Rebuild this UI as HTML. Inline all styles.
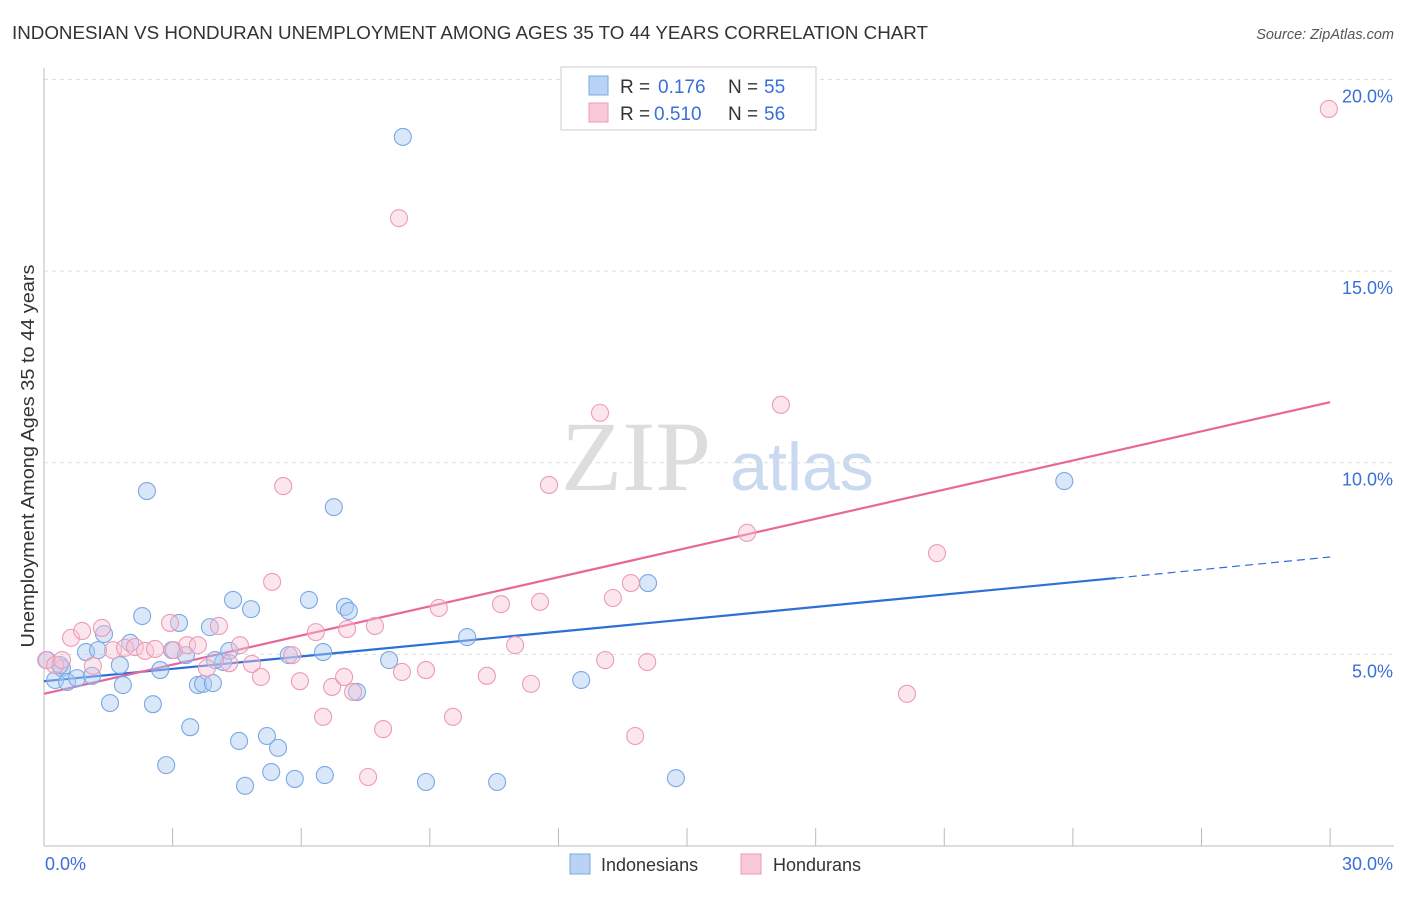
<!DOCTYPE html>
<html><head><meta charset="utf-8"><style>
body{margin:0;background:#fff;font-family:"Liberation Sans",sans-serif;}
svg text{font-family:"Liberation Sans",sans-serif;}
</style></head><body>
<svg id="chart" width="1406" height="892">
<text x="12" y="39" font-size="18.6" fill="#333" textLength="916" lengthAdjust="spacingAndGlyphs">INDONESIAN VS HONDURAN UNEMPLOYMENT AMONG AGES 35 TO 44 YEARS CORRELATION CHART</text>
<text x="1394" y="39" font-size="14.5" fill="#555" font-style="italic" text-anchor="end">Source: ZipAtlas.com</text>
<text x="0" y="0" transform="translate(34,456) rotate(-90)" font-size="18" fill="#333" text-anchor="middle" textLength="383" lengthAdjust="spacingAndGlyphs">Unemployment Among Ages 35 to 44 years</text>
<text x="636" y="490" font-size="100" fill="#ddd" style="font-family:'Liberation Serif',serif" text-anchor="middle">ZIP</text>
<text x="802" y="490" font-size="68" fill="#c9d9ef" text-anchor="middle">atlas</text>
<g id="grid"></g><g id="axes"></g><g id="lines"></g><g id="pts"></g>
<g>
<rect x="561" y="67" width="255" height="63" fill="#fff" stroke="#ccc"/>
<rect x="589" y="76" width="19" height="19" fill="#b9d3f5" stroke="#7aa8e4"/>
<text x="620" y="93" font-size="19" fill="#333">R = </text><text x="658" y="93" font-size="19" fill="#3a6fd8">0.176</text>
<text x="728" y="93" font-size="19" fill="#333">N = </text><text x="764" y="93" font-size="19" fill="#3a6fd8">55</text>
<rect x="589" y="103" width="19" height="19" fill="#f9c9d8" stroke="#ee9ab5"/>
<text x="620" y="120" font-size="19" fill="#333">R = </text><text x="654" y="120" font-size="19" fill="#3a6fd8">0.510</text>
<text x="728" y="120" font-size="19" fill="#333">N = </text><text x="764" y="120" font-size="19" fill="#3a6fd8">56</text>
</g>
<g>
<rect x="570" y="854" width="20" height="20" fill="#b9d3f5" stroke="#7aa8e4"/>
<text x="601" y="871" font-size="18" fill="#333">Indonesians</text>
<rect x="741" y="854" width="20" height="20" fill="#f9c9d8" stroke="#ee9ab5"/>
<text x="773" y="871" font-size="18" fill="#333">Hondurans</text>
</g>
</svg>
<script>
const xTickVals=[0,3,6,9,12,15,18,21,24,27,30];
const yTickVals=[5,10,15,20];
const blueX=[0.07,0.26,0.42,0.54,0.77,0.98,1.12,1.26,1.40,1.54,1.77,1.84,2.01,2.29,2.40,2.54,2.71,2.85,2.99,3.15,3.31,3.41,3.59,3.71,3.87,3.94,4.18,4.32,4.41,4.55,4.83,4.69,5.20,5.30,5.46,5.71,5.85,6.18,6.51,6.55,6.76,7.02,7.11,7.30,8.05,8.37,8.91,9.87,10.57,12.53,14.09,14.74,23.80,0.37,3.99];
const blueY=[4.85,4.33,4.64,4.28,4.38,5.06,4.44,5.11,5.53,3.73,4.72,4.20,5.30,6.00,9.26,3.70,4.59,2.11,5.11,5.82,4.98,3.10,4.20,4.23,5.71,4.25,4.80,5.09,6.42,2.74,6.18,1.57,2.87,1.93,2.56,4.98,1.75,6.42,5.06,1.85,8.84,6.24,6.13,4.02,4.85,18.50,1.67,5.45,1.67,4.33,6.86,1.77,9.52,4.72,4.85];
const pinkX=[0.05,0.26,0.42,0.63,0.89,1.14,1.35,1.61,1.89,2.12,2.36,2.59,2.94,3.03,3.34,3.59,3.80,4.08,4.32,4.57,4.85,5.06,5.32,5.58,5.79,5.97,6.34,6.51,6.72,7.00,7.07,7.21,7.56,7.72,7.91,8.28,8.35,8.91,9.21,9.54,10.33,10.66,10.99,11.36,11.57,11.78,12.97,13.09,13.27,13.69,13.79,14.07,16.40,17.19,20.13,20.83,29.97];
const pinkY=[4.85,4.72,4.85,5.43,5.61,4.70,5.69,5.11,5.17,5.19,5.09,5.14,5.82,5.11,5.24,5.24,4.64,5.74,4.77,5.24,4.75,4.41,6.89,9.39,4.98,4.30,5.58,3.37,4.15,4.41,5.66,4.02,1.80,5.74,3.05,16.38,4.54,4.59,6.21,3.37,4.44,6.31,5.24,4.23,6.37,9.42,11.30,4.85,6.47,6.86,2.87,4.80,8.17,11.51,3.97,7.64,19.23];
const blueLine=[[0,4.30],[25,6.99]];
const blueDash=[[25,6.99],[30,7.54]];
const pinkLine=[[0,3.97],[30,11.58]];
const NS="http://www.w3.org/2000/svg";
const X=v=>44+v*42.87, Y=v=>846-v*38.33;
function mk(t,a,p){const e=document.createElementNS(NS,t);for(const k in a)e.setAttribute(k,a[k]);document.getElementById(p).appendChild(e);return e;}
yTickVals.forEach(v=>{
 const g=mk('line',{x1:44,x2:1394,y1:Y(v),y2:Y(v),stroke:'#ddd','stroke-dasharray':'4,4'},'grid');
 
 
 const t=mk('text',{x:1393,y:Y(v)+23,'font-size':18,fill:'#3a6fd8','text-anchor':'end'},'axes');t.textContent=v.toFixed(1)+'%';
 
 
});
const ax=mk('line',{x1:44,x2:1394,y1:846,y2:846,stroke:'#bbb'},'axes');


const ay=mk('line',{x1:44,x2:44,y1:68,y2:846,stroke:'#bbb'},'axes');


xTickVals.forEach(v=>{
 const l=mk('line',{x1:X(v),x2:X(v),y1:828,y2:846,stroke:'#bbb'},'axes');
 
 
});
[[0,'0.0%',45,'start'],[30,'30.0%',1393,'end']].forEach(d=>{
 const t=mk('text',{x:d[2],y:870,'font-size':18,fill:'#3a6fd8','text-anchor':d[3]},'axes');t.textContent=d[1];
 
 
});
function ln(p,c,dash,name){const l=mk('line',{x1:X(p[0][0]),y1:Y(p[0][1]),x2:X(p[1][0]),y2:Y(p[1][1]),stroke:c,'stroke-width':dash?1.2:2.2,'stroke-dasharray':dash?'8,5':'none'},'lines');
 
 }
ln(blueLine,'#2e6fd6',false,'indonesian-trend-line');
ln(blueDash,'#2e6fd6',true,'indonesian-trend-extension');
ln(pinkLine,'#e8679a',false,'honduran-trend-line');
blueX.forEach((x,i)=>{const c=mk('circle',{cx:X(x),cy:Y(blueY[i]),r:8.5,fill:'rgba(170,202,242,0.45)',stroke:'#7aa8e4','stroke-width':1.1},'pts');
 
 });
pinkX.forEach((x,i)=>{const c=mk('circle',{cx:X(x),cy:Y(pinkY[i]),r:8.5,fill:'rgba(248,196,214,0.42)',stroke:'#ee9ab5','stroke-width':1.1},'pts');
 
 });
</script>
</body></html>
